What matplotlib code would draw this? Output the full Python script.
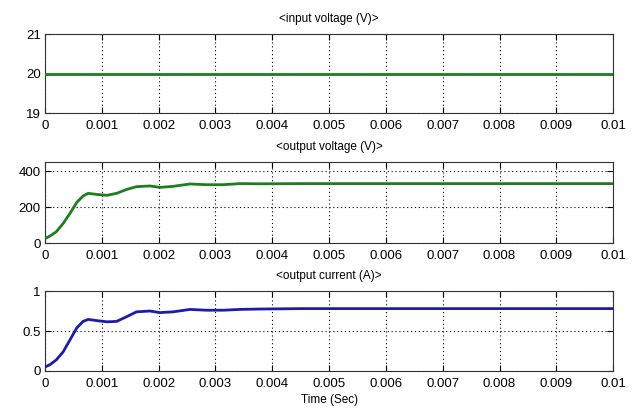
import matplotlib
matplotlib.use('Agg')
import matplotlib.pyplot as plt

# time axis (s) and traces
t_in = [0.0, 0.01]
v_in = [20, 20]

t_out = [0.0, 0.00009, 0.0002, 0.00032, 0.00044, 0.00056, 0.00067, 0.00076,
         0.00091, 0.00109, 0.00126, 0.00144, 0.00161, 0.00185, 0.00202,
         0.00226, 0.00255, 0.00284, 0.00314, 0.00343, 0.0038, 0.0045, 0.006,
         0.008, 0.01]
v_out = [25, 39, 63, 109, 165, 226, 261, 276, 270, 265, 276, 298, 313, 317,
         309, 315, 328, 324, 324, 330, 329, 330, 330, 330, 330]
i_out = [0.05, 0.08, 0.14, 0.24, 0.39, 0.54, 0.62, 0.645, 0.63, 0.615, 0.62,
         0.68, 0.74, 0.75, 0.73, 0.74, 0.77, 0.76, 0.76, 0.77, 0.775, 0.78,
         0.78, 0.78, 0.78]

xticks = [0, 0.001, 0.002, 0.003, 0.004, 0.005, 0.006, 0.007, 0.008, 0.009, 0.01]
xticklabels = ['0', '0.001', '0.002', '0.003', '0.004', '0.005', '0.006',
               '0.007', '0.008', '0.009', '0.01']

plt.rcParams['font.family'] = ['Liberation Sans', 'DejaVu Sans']
plt.rcParams['font.size'] = 8

GREEN = '#1e7d1e'
BLUE = '#1c1ca8'

fig = plt.figure(figsize=(6.42, 4.08), dpi=100)
fig.patch.set_facecolor('white')

panels = [
    ([0.0701, 0.723, 0.885, 0.1936], t_in, v_in, GREEN, (19, 21), [19, 20, 21],
     ['19', '20', '21'], '<input voltage (V)>'),
    ([0.0701, 0.4044, 0.885, 0.1985], t_out, v_out, GREEN, (0, 450), [0, 200, 400],
     ['0', '200', '400'], '<output voltage (V)>'),
    ([0.0701, 0.0907, 0.885, 0.196], t_out, i_out, BLUE, (0, 1), [0, 0.5, 1],
     ['0', '0.5', '1'], '<output current (A)>'),
]

for rect, x, y, col, ylim, yt, ytl, title in panels:
    ax = fig.add_axes(rect)
    ax.plot(x, y, color=col, lw=2.0, zorder=3)
    ax.set_xlim(0, 0.01)
    ax.set_ylim(*ylim)
    ax.set_xticks(xticks)
    ax.set_xticklabels(xticklabels)
    ax.set_yticks(yt)
    ax.set_yticklabels(ytl)
    ax.grid(True, linestyle=(0, (1, 2.5)), color='black', lw=0.8)
    ax.tick_params(axis='x', pad=5)
    ax.tick_params(axis='y', pad=3)
    ax.tick_params(direction='in', top=True, right=True, length=4, width=0.8,
                   labelsize=9.5)
    for s in ax.spines.values():
        s.set_linewidth(0.8)
        s.set_color('#333333')
    ax.set_title(title, fontsize=8.5, pad=9)

ax.set_xlabel('Time (Sec)', fontsize=8.5, labelpad=3)

fig.savefig('out.png', dpi=100, facecolor='white')
